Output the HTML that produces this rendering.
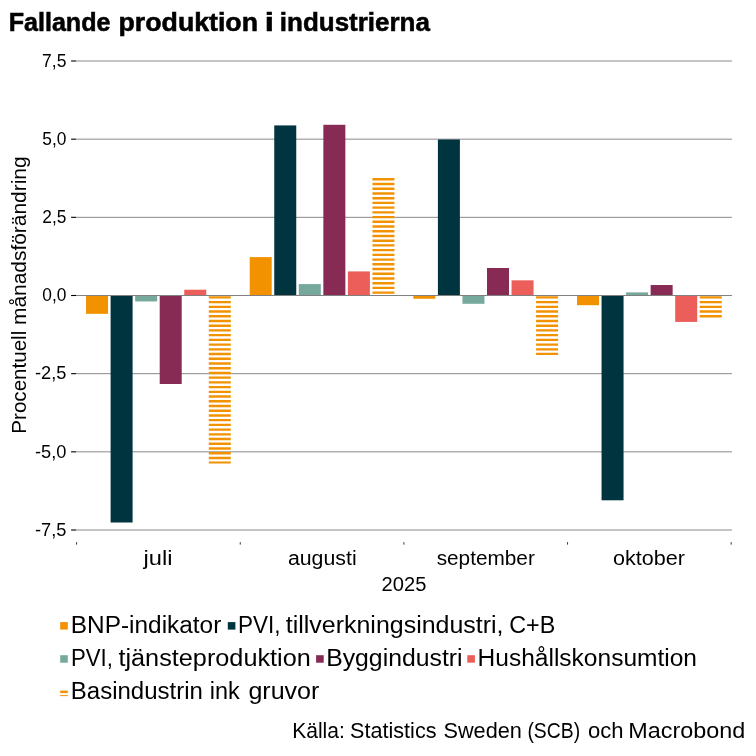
<!DOCTYPE html>
<html lang="sv"><head><meta charset="utf-8"><title>Fallande produktion i industrierna</title>
<style>html,body{margin:0;padding:0;background:#fff}body{width:756px;height:756px;overflow:hidden}svg{display:block}text{font-family:"Liberation Sans",sans-serif;fill:#000}</style>
</head><body>
<svg width="756" height="756" viewBox="0 0 756 756">
<rect width="756" height="756" fill="#fff"/>
<line x1="76.1" x2="731.9" y1="61.00" y2="61.00" stroke="#8a8a8a" stroke-width="1"/>
<line x1="71.1" x2="76.1" y1="61.00" y2="61.00" stroke="#000" stroke-width="1.1"/>
<line x1="76.1" x2="731.9" y1="139.17" y2="139.17" stroke="#8a8a8a" stroke-width="1"/>
<line x1="71.1" x2="76.1" y1="139.17" y2="139.17" stroke="#000" stroke-width="1.1"/>
<line x1="76.1" x2="731.9" y1="217.33" y2="217.33" stroke="#8a8a8a" stroke-width="1"/>
<line x1="71.1" x2="76.1" y1="217.33" y2="217.33" stroke="#000" stroke-width="1.1"/>
<line x1="71.1" x2="76.1" y1="295.50" y2="295.50" stroke="#000" stroke-width="1.1"/>
<line x1="76.1" x2="731.9" y1="373.67" y2="373.67" stroke="#8a8a8a" stroke-width="1"/>
<line x1="71.1" x2="76.1" y1="373.67" y2="373.67" stroke="#000" stroke-width="1.1"/>
<line x1="76.1" x2="731.9" y1="451.83" y2="451.83" stroke="#8a8a8a" stroke-width="1"/>
<line x1="71.1" x2="76.1" y1="451.83" y2="451.83" stroke="#000" stroke-width="1.1"/>
<line x1="76.1" x2="731.9" y1="530.00" y2="530.00" stroke="#8a8a8a" stroke-width="1"/>
<line x1="71.1" x2="76.1" y1="530.00" y2="530.00" stroke="#000" stroke-width="1.1"/>
<rect x="86.06" y="295.50" width="22.00" height="18.35" fill="#F39200"/>
<rect x="110.60" y="295.50" width="22.00" height="227.00" fill="#003540"/>
<rect x="135.15" y="295.50" width="22.00" height="5.94" fill="#76A99C"/>
<rect x="159.70" y="295.50" width="22.00" height="88.48" fill="#872B54"/>
<rect x="184.25" y="289.72" width="22.00" height="5.78" fill="#EB5E5A"/>
<path fill="#F39200" d="M208.79 296.18h22.00v2.38h-22.00zM208.79 300.90h22.00v2.38h-22.00zM208.79 305.63h22.00v2.38h-22.00zM208.79 310.35h22.00v2.38h-22.00zM208.79 315.07h22.00v2.38h-22.00zM208.79 319.80h22.00v2.38h-22.00zM208.79 324.52h22.00v2.38h-22.00zM208.79 329.24h22.00v2.38h-22.00zM208.79 333.96h22.00v2.38h-22.00zM208.79 338.69h22.00v2.38h-22.00zM208.79 343.41h22.00v2.38h-22.00zM208.79 348.13h22.00v2.38h-22.00zM208.79 352.86h22.00v2.38h-22.00zM208.79 357.58h22.00v2.38h-22.00zM208.79 362.30h22.00v2.38h-22.00zM208.79 367.02h22.00v2.38h-22.00zM208.79 371.75h22.00v2.38h-22.00zM208.79 376.47h22.00v2.38h-22.00zM208.79 381.19h22.00v2.38h-22.00zM208.79 385.92h22.00v2.38h-22.00zM208.79 390.64h22.00v2.38h-22.00zM208.79 395.36h22.00v2.38h-22.00zM208.79 400.09h22.00v2.38h-22.00zM208.79 404.81h22.00v2.38h-22.00zM208.79 409.53h22.00v2.38h-22.00zM208.79 414.25h22.00v2.38h-22.00zM208.79 418.98h22.00v2.38h-22.00zM208.79 423.70h22.00v2.38h-22.00zM208.79 428.42h22.00v2.38h-22.00zM208.79 433.15h22.00v2.38h-22.00zM208.79 437.87h22.00v2.38h-22.00zM208.79 442.59h22.00v2.38h-22.00zM208.79 447.32h22.00v2.38h-22.00zM208.79 452.04h22.00v2.38h-22.00zM208.79 456.76h22.00v2.38h-22.00zM208.79 461.49h22.00v1.92h-22.00z"/>
<rect x="249.71" y="257.10" width="22.00" height="38.40" fill="#F39200"/>
<rect x="274.25" y="125.41" width="22.00" height="170.09" fill="#003540"/>
<rect x="298.80" y="284.09" width="22.00" height="11.41" fill="#76A99C"/>
<rect x="323.35" y="124.78" width="22.00" height="170.72" fill="#872B54"/>
<rect x="347.90" y="271.42" width="22.00" height="24.08" fill="#EB5E5A"/>
<path fill="#F39200" d="M372.44 178.11h22.00v2.38h-22.00zM372.44 182.83h22.00v2.38h-22.00zM372.44 187.55h22.00v2.38h-22.00zM372.44 192.27h22.00v2.38h-22.00zM372.44 197.00h22.00v2.38h-22.00zM372.44 201.72h22.00v2.38h-22.00zM372.44 206.44h22.00v2.38h-22.00zM372.44 211.17h22.00v2.38h-22.00zM372.44 215.89h22.00v2.38h-22.00zM372.44 220.61h22.00v2.38h-22.00zM372.44 225.34h22.00v2.38h-22.00zM372.44 230.06h22.00v2.38h-22.00zM372.44 234.78h22.00v2.38h-22.00zM372.44 239.50h22.00v2.38h-22.00zM372.44 244.23h22.00v2.38h-22.00zM372.44 248.95h22.00v2.38h-22.00zM372.44 253.67h22.00v2.38h-22.00zM372.44 258.40h22.00v2.38h-22.00zM372.44 263.12h22.00v2.38h-22.00zM372.44 267.84h22.00v2.38h-22.00zM372.44 272.56h22.00v2.38h-22.00zM372.44 277.29h22.00v2.38h-22.00zM372.44 282.01h22.00v2.38h-22.00zM372.44 286.73h22.00v2.38h-22.00zM372.44 291.46h22.00v2.38h-22.00z"/>
<rect x="413.36" y="295.50" width="22.00" height="3.28" fill="#F39200"/>
<rect x="437.90" y="139.48" width="22.00" height="156.02" fill="#003540"/>
<rect x="462.45" y="295.50" width="22.00" height="8.29" fill="#76A99C"/>
<rect x="487.00" y="267.99" width="22.00" height="27.51" fill="#872B54"/>
<rect x="511.55" y="280.34" width="22.00" height="15.16" fill="#EB5E5A"/>
<path fill="#F39200" d="M536.09 296.18h22.00v2.38h-22.00zM536.09 300.90h22.00v2.38h-22.00zM536.09 305.63h22.00v2.38h-22.00zM536.09 310.35h22.00v2.38h-22.00zM536.09 315.07h22.00v2.38h-22.00zM536.09 319.80h22.00v2.38h-22.00zM536.09 324.52h22.00v2.38h-22.00zM536.09 329.24h22.00v2.38h-22.00zM536.09 333.96h22.00v2.38h-22.00zM536.09 338.69h22.00v2.38h-22.00zM536.09 343.41h22.00v2.38h-22.00zM536.09 348.13h22.00v2.38h-22.00zM536.09 352.86h22.00v2.21h-22.00z"/>
<rect x="577.01" y="295.50" width="22.00" height="9.69" fill="#F39200"/>
<rect x="601.55" y="295.50" width="22.00" height="204.80" fill="#003540"/>
<rect x="626.10" y="292.37" width="22.00" height="3.13" fill="#76A99C"/>
<rect x="650.65" y="285.03" width="22.00" height="10.47" fill="#872B54"/>
<rect x="675.20" y="295.50" width="22.00" height="26.42" fill="#EB5E5A"/>
<path fill="#F39200" d="M699.74 296.18h22.00v2.38h-22.00zM699.74 300.90h22.00v2.38h-22.00zM699.74 305.63h22.00v2.38h-22.00zM699.74 310.35h22.00v2.38h-22.00zM699.74 315.07h22.00v2.38h-22.00z"/>
<line x1="76.1" x2="731.9" y1="295.50" y2="295.50" stroke="#808080" stroke-width="1"/>
<line x1="76.60" x2="76.60" y1="542.2" y2="544.6" stroke="#333" stroke-width="1"/>
<line x1="240.25" x2="240.25" y1="542.2" y2="544.6" stroke="#333" stroke-width="1"/>
<line x1="403.90" x2="403.90" y1="542.2" y2="544.6" stroke="#333" stroke-width="1"/>
<line x1="567.55" x2="567.55" y1="542.2" y2="544.6" stroke="#333" stroke-width="1"/>
<line x1="731.20" x2="731.20" y1="542.2" y2="544.6" stroke="#333" stroke-width="1"/>
<text x="8.70" y="31.15" font-size="26.00" textLength="101.79" lengthAdjust="spacingAndGlyphs" font-weight="bold" stroke="#000" stroke-width="0.55">Fallande</text>
<text x="118.57" y="31.15" font-size="26.00" textLength="139.44" lengthAdjust="spacingAndGlyphs" font-weight="bold" stroke="#000" stroke-width="0.55">produktion</text>
<text x="264.75" y="31.15" font-size="26.00" textLength="9.15" lengthAdjust="spacingAndGlyphs" font-weight="bold" stroke="#000" stroke-width="0.55">i</text>
<text x="279.80" y="31.15" font-size="26.00" textLength="150.15" lengthAdjust="spacingAndGlyphs" font-weight="bold" stroke="#000" stroke-width="0.55">industrierna</text>
<text x="143.62" y="564.80" font-size="19.40" textLength="28.99" lengthAdjust="spacingAndGlyphs">juli</text>
<text x="287.90" y="564.80" font-size="19.40" textLength="68.76" lengthAdjust="spacingAndGlyphs">augusti</text>
<text x="436.66" y="564.80" font-size="19.40" textLength="98.19" lengthAdjust="spacingAndGlyphs">september</text>
<text x="613.01" y="564.80" font-size="19.40" textLength="71.94" lengthAdjust="spacingAndGlyphs">oktober</text>
<text x="381.61" y="591.30" font-size="19.40" textLength="44.74" lengthAdjust="spacingAndGlyphs">2025</text>
<text x="70.80" y="633.00" font-size="23.30" textLength="150.50" lengthAdjust="spacingAndGlyphs">BNP-indikator</text>
<text x="237.90" y="633.00" font-size="23.30" textLength="42.49" lengthAdjust="spacingAndGlyphs">PVI,</text>
<text x="285.75" y="633.00" font-size="23.30" textLength="217.81" lengthAdjust="spacingAndGlyphs">tillverkningsindustri,</text>
<text x="509.26" y="633.00" font-size="23.30" textLength="46.01" lengthAdjust="spacingAndGlyphs">C+B</text>
<text x="71.02" y="666.10" font-size="23.30" textLength="41.94" lengthAdjust="spacingAndGlyphs">PVI,</text>
<text x="118.45" y="666.10" font-size="23.30" textLength="192.40" lengthAdjust="spacingAndGlyphs">tjänsteproduktion</text>
<text x="326.17" y="666.10" font-size="23.30" textLength="136.39" lengthAdjust="spacingAndGlyphs">Byggindustri</text>
<text x="477.59" y="666.10" font-size="23.30" textLength="219.42" lengthAdjust="spacingAndGlyphs">Hushållskonsumtion</text>
<text x="70.80" y="699.20" font-size="23.30" textLength="132.05" lengthAdjust="spacingAndGlyphs">Basindustrin</text>
<text x="209.77" y="699.20" font-size="23.30" textLength="29.93" lengthAdjust="spacingAndGlyphs">ink</text>
<text x="248.41" y="699.20" font-size="23.30" textLength="70.99" lengthAdjust="spacingAndGlyphs">gruvor</text>
<text x="292.22" y="738.40" font-size="21.60" textLength="52.64" lengthAdjust="spacingAndGlyphs">Källa:</text>
<text x="350.10" y="738.40" font-size="21.60" textLength="86.44" lengthAdjust="spacingAndGlyphs">Statistics</text>
<text x="443.49" y="738.40" font-size="21.60" textLength="78.41" lengthAdjust="spacingAndGlyphs">Sweden</text>
<text x="527.41" y="738.40" font-size="21.60" textLength="52.69" lengthAdjust="spacingAndGlyphs">(SCB)</text>
<text x="587.91" y="738.40" font-size="21.60" textLength="35.50" lengthAdjust="spacingAndGlyphs">och</text>
<text x="628.39" y="738.40" font-size="21.60" textLength="116.93" lengthAdjust="spacingAndGlyphs">Macrobond</text>
<text x="42.09" y="66.70" font-size="18.90" textLength="24.33" lengthAdjust="spacingAndGlyphs">7,5</text>
<text x="42.27" y="144.87" font-size="18.90" textLength="24.07" lengthAdjust="spacingAndGlyphs">5,0</text>
<text x="42.28" y="223.03" font-size="18.90" textLength="24.06" lengthAdjust="spacingAndGlyphs">2,5</text>
<text x="42.27" y="301.20" font-size="18.90" textLength="24.09" lengthAdjust="spacingAndGlyphs">0,0</text>
<text x="34.96" y="379.37" font-size="18.90" textLength="31.37" lengthAdjust="spacingAndGlyphs">-2,5</text>
<text x="34.99" y="457.53" font-size="18.90" textLength="31.42" lengthAdjust="spacingAndGlyphs">-5,0</text>
<text x="34.96" y="535.70" font-size="18.90" textLength="31.37" lengthAdjust="spacingAndGlyphs">-7,5</text>
<g transform="translate(26.2,434.0) rotate(-90)">
<text x="0.34" y="0.00" font-size="19.40" textLength="102.93" lengthAdjust="spacingAndGlyphs">Procentuell</text>
<text x="109.04" y="0.00" font-size="19.40" textLength="168.51" lengthAdjust="spacingAndGlyphs">månadsförändring</text>
</g>
<rect x="60.2" y="622.1" width="7.6" height="7.5" fill="#F39200"/>
<rect x="227.8" y="622.1" width="7.6" height="7.5" fill="#003540"/>
<rect x="60.2" y="655.2" width="7.6" height="7.5" fill="#76A99C"/>
<rect x="316.1" y="655.2" width="7.6" height="7.5" fill="#872B54"/>
<rect x="467.3" y="655.2" width="7.6" height="7.5" fill="#EB5E5A"/>
<rect x="60.2" y="690.6" width="7.6" height="2.5" fill="#F39200"/><rect x="60.2" y="695.1" width="7.6" height="1.0" fill="#F39200"/>
</svg></body></html>
